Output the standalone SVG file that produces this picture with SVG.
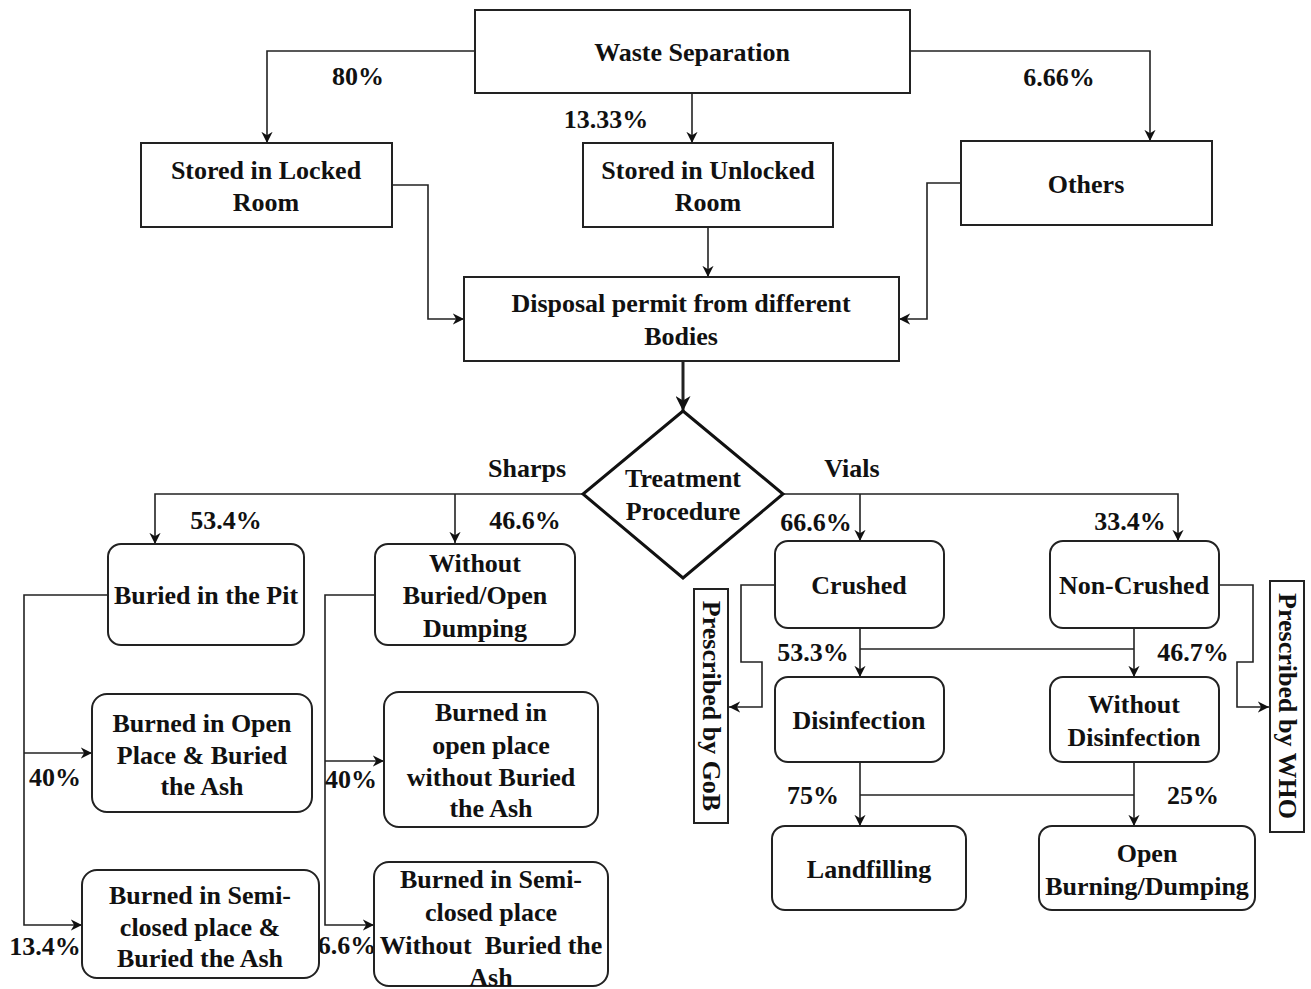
<svg xmlns="http://www.w3.org/2000/svg" width="1311" height="989" viewBox="0 0 1311 989">
<style>
  text { font-family: "Liberation Serif", "DejaVu Serif", serif; font-weight: bold; font-size: 26px; fill: #111; text-anchor: middle; dominant-baseline: central; }
  .box { fill: #fff; stroke: #222; stroke-width: 2; }
  .rbox { fill: #fff; stroke: #222; stroke-width: 2; }
  .conn path { fill: none; stroke: #222; stroke-width: 1.6; }
  .conn path.arr { marker-end: url(#ah); }
  .thick { stroke-width: 3 !important; }
</style>
<defs>
  <marker id="ah" viewBox="0 0 10 10" refX="10" refY="5" markerWidth="7" markerHeight="7" orient="auto" markerUnits="strokeWidth">
    <path d="M0,0 L10,5 L0,10 L3,5 Z" fill="#111"/>
  </marker>
  <marker id="ahb" viewBox="0 0 10 10" refX="10" refY="5" markerWidth="5" markerHeight="5" orient="auto" markerUnits="strokeWidth">
    <path d="M0,0 L10,5 L0,10 L3,5 Z" fill="#111"/>
  </marker>
</defs>
<rect width="1311" height="989" fill="#fff"/>

<g id="connectors" class="conn">
  <path class="arr" d="M475,51 H267 V143"/>
  <path class="arr" d="M692,93 V143"/>
  <path class="arr" d="M910,51 H1150 V141"/>
  <path class="arr" d="M392,185 H428 V319 H464"/>
  <path class="arr" d="M708,227 V277"/>
  <path class="arr" d="M961,183 H927 V319 H899"/>
  <path class="thick" d="M683,361 V411" marker-end="url(#ahb)"/>
  <path class="arr" d="M583,494 H155 V544"/>
  <path class="arr" d="M455,494 V543"/>
  <path class="arr" d="M783,494 H1178 V541"/>
  <path class="arr" d="M860,494 V541"/>
  <path class="arr" d="M108,595 H24 V925 H82"/>
  <path class="arr" d="M24,753 H92"/>
  <path class="arr" d="M375,595 H325 V925 H374"/>
  <path class="arr" d="M325,761 H384"/>
  <path class="arr" d="M860,628 V677"/>
  <path d="M860,649 H1134"/>
  <path class="arr" d="M1134,628 V677"/>
  <path class="arr" d="M860,762 V826"/>
  <path d="M860,795 H1134"/>
  <path class="arr" d="M1134,762 V826"/>
  <path class="arr" d="M775,585 H741 V662 H762 V707 H729"/>
  <path class="arr" d="M1219,585 H1253 V662 H1237 V707 H1269"/>
</g>

<g id="labels">
  <text x="358" y="76">80%</text>
  <text x="606" y="119">13.33%</text>
  <text x="1059" y="77">6.66%</text>
  <text x="527" y="468">Sharps</text>
  <text x="852" y="468">Vials</text>
  <text x="226" y="520">53.4%</text>
  <text x="525" y="520">46.6%</text>
  <text x="816" y="522">66.6%</text>
  <text x="1130" y="521">33.4%</text>
  <text x="55" y="777">40%</text>
  <text x="351" y="779">40%</text>
  <text x="45" y="946">13.4%</text>
  <text x="347" y="945">6.6%</text>
  <text x="813" y="652">53.3%</text>
  <text x="1193" y="652">46.7%</text>
  <text x="813" y="795">75%</text>
  <text x="1193" y="795">25%</text>
</g>

<g id="waste-separation">
  <rect class="box" x="475" y="10" width="435" height="83"/>
  <text x="692" y="52">Waste Separation</text>
</g>
<g id="stored-locked">
  <rect class="box" x="141" y="143" width="251" height="84"/>
  <text x="266" y="170">Stored in Locked</text>
  <text x="266" y="202">Room</text>
</g>
<g id="stored-unlocked">
  <rect class="box" x="583" y="143" width="250" height="84"/>
  <text x="708" y="170">Stored in Unlocked</text>
  <text x="708" y="202">Room</text>
</g>
<g id="others">
  <rect class="box" x="961" y="141" width="251" height="84"/>
  <text x="1086" y="184">Others</text>
</g>
<g id="disposal-permit">
  <rect class="box" x="464" y="277" width="435" height="84"/>
  <text x="681" y="303">Disposal permit from different</text>
  <text x="681" y="336">Bodies</text>
</g>
<g id="treatment-procedure">
  <path d="M683,411 L783,494 L683,578 L583,494 Z" fill="#fff" stroke="#111" stroke-width="3"/>
  <text x="683" y="478">Treatment</text>
  <text x="683" y="511">Procedure</text>
</g>
<g id="buried-pit">
  <rect class="rbox" x="108" y="544" width="196" height="101" rx="13"/>
  <text x="206" y="595">Buried in the Pit</text>
</g>
<g id="without-buried">
  <rect class="rbox" x="375" y="544" width="200" height="101" rx="13"/>
  <text x="475" y="563">Without</text>
  <text x="475" y="595">Buried/Open</text>
  <text x="475" y="628">Dumping</text>
</g>
<g id="burned-open-buried">
  <rect class="rbox" x="92" y="694" width="220" height="118" rx="15"/>
  <text x="202" y="723">Burned in Open</text>
  <text x="202" y="755">Place &amp; Buried</text>
  <text x="202" y="786">the Ash</text>
</g>
<g id="burned-open-without">
  <rect class="rbox" x="384" y="692" width="214" height="135" rx="15"/>
  <text x="491" y="712">Burned in</text>
  <text x="491" y="745">open place</text>
  <text x="491" y="777">without Buried</text>
  <text x="491" y="808">the Ash</text>
</g>
<g id="burned-semi-buried">
  <rect class="rbox" x="82" y="870" width="237" height="108" rx="15"/>
  <text x="200" y="895">Burned in Semi-</text>
  <text x="200" y="927">closed place &amp;</text>
  <text x="200" y="958">Buried the Ash</text>
</g>
<g id="burned-semi-without">
  <rect class="rbox" x="374" y="862" width="234" height="124" rx="15"/>
  <text x="491" y="879">Burned in Semi-</text>
  <text x="491" y="912">closed place</text>
  <text x="491" y="945" xml:space="preserve">Without  Buried the</text>
  <text x="491" y="977">Ash</text>
</g>
<g id="crushed">
  <rect class="rbox" x="775" y="541" width="169" height="87" rx="13"/>
  <text x="859" y="585">Crushed</text>
</g>
<g id="non-crushed">
  <rect class="rbox" x="1050" y="541" width="169" height="87" rx="13"/>
  <text x="1134" y="585">Non-Crushed</text>
</g>
<g id="disinfection">
  <rect class="rbox" x="775" y="677" width="169" height="85" rx="13"/>
  <text x="859" y="720">Disinfection</text>
</g>
<g id="without-disinfection">
  <rect class="rbox" x="1050" y="677" width="169" height="85" rx="13"/>
  <text x="1134" y="704">Without</text>
  <text x="1134" y="737">Disinfection</text>
</g>
<g id="landfilling">
  <rect class="rbox" x="772" y="826" width="194" height="84" rx="13"/>
  <text x="869" y="869">Landfilling</text>
</g>
<g id="open-burning">
  <rect class="rbox" x="1039" y="826" width="216" height="84" rx="13"/>
  <text x="1147" y="853">Open</text>
  <text x="1147" y="886">Burning/Dumping</text>
</g>
<g id="prescribed-gob">
  <rect class="box" x="694" y="589" width="34" height="234"/>
  <text x="711" y="706" transform="rotate(90 711 706)">Prescribed by GoB</text>
</g>
<g id="prescribed-who">
  <rect class="box" x="1270" y="581" width="34" height="251"/>
  <text x="1287" y="706" transform="rotate(90 1287 706)">Prescribed by WHO</text>
</g>
</svg>
